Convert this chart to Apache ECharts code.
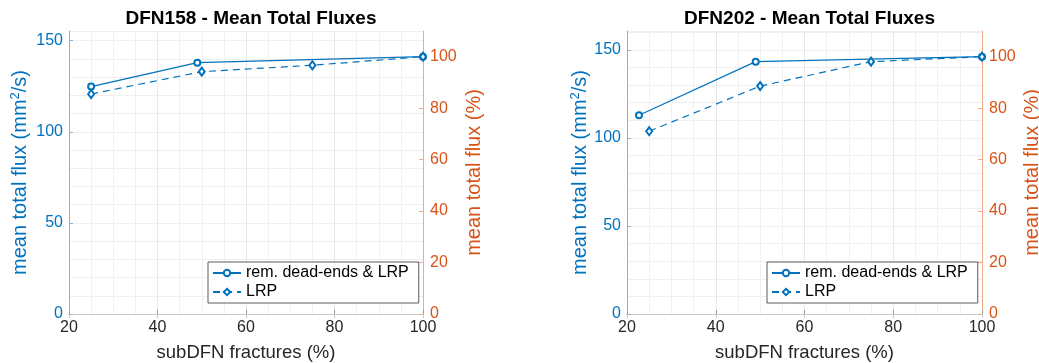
<!DOCTYPE html>
<html>
<head>
<meta charset="utf-8">
<script src="https://cdn.jsdelivr.net/npm/echarts@6/dist/echarts.min.js"></script>
<style>html,body{margin:0;padding:0;background:#fff}#c{width:1039px;height:363px}</style>
</head>
<body>
<div id="c"></div>
<script>
// ---- data ----
const titles = ['DFN158 - Mean Total Fluxes', 'DFN202 - Mean Total Fluxes'];
const seriesNames = ['rem. dead-ends & LRP', 'LRP'];
const xSolid158 = [25, 49, 100];
const ySolid158 = [124.8, 137.9, 141.2];
const xDashed158 = [25, 50, 75, 100];
const yDashed158 = [120.7, 133.0, 136.5, 141.2];
const xSolid202 = [22.7, 49, 100];
const ySolid202 = [112.9, 143.3, 146.1];
const xDashed202 = [25, 50, 75, 100];
const yDashed202 = [103.8, 129.4, 143.3, 146.1];
const leftMax = [155.3, 160.7];   // left axis top (mm^2/s)
const rightMax = 110;             // right axis top (%)
const xTicks = [20, 40, 60, 80, 100];
const leftTicks = [0, 50, 100, 150];
const rightTicks = [0, 20, 40, 60, 80, 100];

const BLUE = '#0072BD', ORANGE = '#D95319';
const FONT = 'Liberation Sans';
const zip = (xs, ys) => xs.map((x, i) => [x, ys[i]]);

const grids = [
  {left: 69, top: 31, width: 354, height: 283, outerBoundsMode: 'none', containLabel: false},
  {left: 627, top: 31, width: 355, height: 283, outerBoundsMode: 'none', containLabel: false}
];

const option = {
  animation: false,
  backgroundColor: '#fff',
  textStyle: {fontFamily: FONT},
  title: grids.map((g, i) => ({
    text: titles[i], left: g.left + g.width / 2, top: 4, textAlign: 'center',
    textStyle: {fontFamily: FONT, fontSize: 19, fontWeight: 'bold', color: '#000'}
  })),
  grid: grids,
  legend: grids.map((g, i) => ({
    data: seriesNames, orient: 'vertical',
    left: g.left + g.width - 215, top: 262,
    itemWidth: 28, itemHeight: 8, itemGap: 3,
    padding: [3, 10, 3, 4],
    borderColor: '#333', borderWidth: 0.8, backgroundColor: '#fff',
    textStyle: {fontFamily: FONT, fontSize: 16, color: '#000'},
    selectedMode: false
  })),
  xAxis: [],
  yAxis: [],
  series: []
};

grids.forEach((g, i) => {
  // bottom x axis
  option.xAxis.push({
    type: 'value', gridIndex: i, min: xTicks[0], max: xTicks[xTicks.length - 1], interval: 20,
    name: 'subDFN fractures (%)', nameLocation: 'middle', nameGap: 29,
    nameTextStyle: {fontFamily: FONT, fontSize: 18.5, color: '#262626'},
    axisLine: {lineStyle: {color: '#9a9a9a', width: 1}},
    axisTick: {inside: true, length: 4, lineStyle: {color: '#9a9a9a'}},
    axisLabel: {fontFamily: FONT, fontSize: 16, color: '#262626', margin: 6},
    splitLine: {show: true, lineStyle: {color: '#e8e8e8', width: 1}},
    minorTick: {show: false, splitNumber: 4},
    minorSplitLine: {show: true, lineStyle: {color: '#f1f1f1', width: 1}}
  });
  // top x axis (box)
  option.xAxis.push({
    type: 'value', gridIndex: i, position: 'top', min: xTicks[0], max: xTicks[xTicks.length - 1], interval: 20,
    axisLine: {lineStyle: {color: '#c8c8c8', width: 1}},
    axisTick: {inside: true, length: 4, lineStyle: {color: '#c8c8c8'}},
    axisLabel: {show: false}, splitLine: {show: false}
  });
  // left y axis: labels & ticks
  option.yAxis.push({
    type: 'value', gridIndex: i, position: 'left', min: 0, max: leftMax[i], interval: 50,
    name: 'mean total flux (mm{sup|2}/s)', nameLocation: 'middle', nameGap: i === 0 ? 37 : 35, nameRotate: 90,
    nameTextStyle: {fontFamily: FONT, fontSize: 20, color: BLUE,
      rich: {sup: {fontFamily: FONT, fontSize: 13, color: BLUE, padding: [0, 0, 10, 0]}}},
    axisLine: {show: true, lineStyle: {color: '#7fb3e0', width: 1}},
    axisTick: {show: true, inside: true, length: 4, lineStyle: {color: '#7fb3e0'}},
    axisLabel: {fontFamily: FONT, fontSize: 16, color: BLUE, margin: 6, showMaxLabel: false,
      formatter: v => leftTicks.includes(v) ? String(v) : ''},
    splitLine: {show: false}
  });
  // left y axis: grid lines (every 10)
  option.yAxis.push({
    type: 'value', gridIndex: i, position: 'left', min: 0, max: leftMax[i], interval: 10,
    axisLine: {show: false}, axisTick: {show: false}, axisLabel: {show: false},
    splitLine: {show: true, lineStyle: {color: '#efefef', width: 1}}
  });
  // right y axis (%)
  option.yAxis.push({
    type: 'value', gridIndex: i, position: 'right', min: 0, max: rightMax, interval: 20,
    name: 'mean total flux (%)', nameLocation: 'middle', nameGap: i === 0 ? 41 : 40, nameRotate: 90,
    nameTextStyle: {fontFamily: FONT, fontSize: 20, color: ORANGE},
    axisLine: {show: true, lineStyle: {color: '#f0a98a', width: 1}},
    axisTick: {show: true, inside: true, length: 4, lineStyle: {color: '#f0a98a'}},
    axisLabel: {fontFamily: FONT, fontSize: 16, color: ORANGE, margin: 7, showMaxLabel: false,
      formatter: v => rightTicks.includes(v) ? String(v) : ''},
    splitLine: {show: false}
  });
});

const sets = [
  [zip(xSolid158, ySolid158), zip(xDashed158, yDashed158)],
  [zip(xSolid202, ySolid202), zip(xDashed202, yDashed202)]
];
sets.forEach((s, i) => {
  option.series.push({
    name: seriesNames[0], type: 'line', xAxisIndex: i * 2, yAxisIndex: i * 3,
    data: s[0], symbol: 'emptyCircle', symbolSize: 6,
    lineStyle: {color: BLUE, width: 1.2, type: 'solid'},
    itemStyle: {color: BLUE, borderWidth: 1.2}, z: 3
  });
  option.series.push({
    name: seriesNames[1], type: 'line', xAxisIndex: i * 2, yAxisIndex: i * 3,
    data: s[1], symbol: 'emptyDiamond', symbolSize: [6, 8],
    lineStyle: {color: BLUE, width: 1.2, type: [7, 5]},
    itemStyle: {color: BLUE, borderWidth: 1.2}, z: 3
  });
});

const chart = echarts.init(document.getElementById('c'), null, {renderer: 'canvas'});
chart.setOption(option);
</script>
</body>
</html>
